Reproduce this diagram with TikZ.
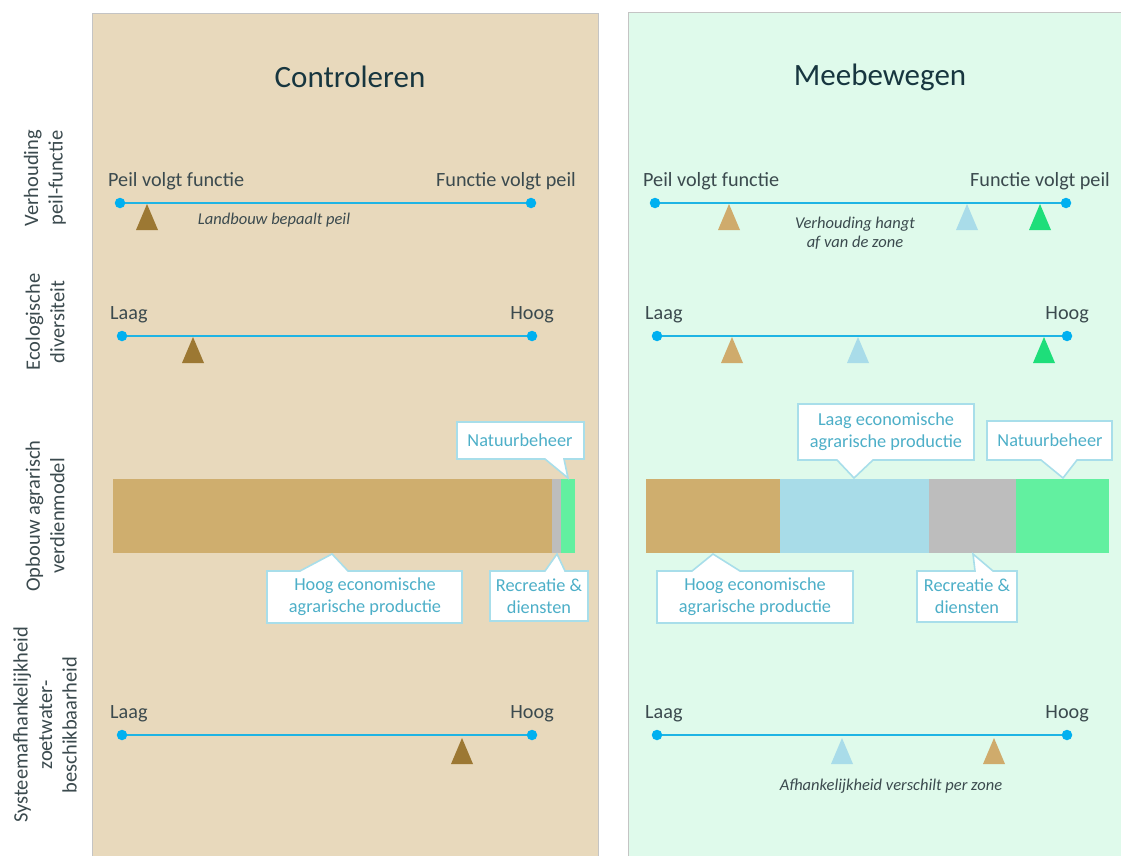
\documentclass[tikz,border=0pt]{standalone}
\usepackage{fontspec}
\setmainfont{Carlito}
\definecolor{panelL}{HTML}{E8D9BC}
\definecolor{panelR}{HTML}{DFFAEB}
\definecolor{panelB}{HTML}{C4C4C4}
\definecolor{axis}{HTML}{1FB4E4}
\definecolor{dotc}{HTML}{00B0F0}
\definecolor{txt}{HTML}{3B4A4E}
\definecolor{ttl}{HTML}{17363F}
\definecolor{brownT}{HTML}{9C7833}
\definecolor{tanT}{HTML}{CFAB6C}
\definecolor{blueT}{HTML}{A9DCE9}
\definecolor{greenT}{HTML}{1EDE7A}
\definecolor{barTan}{HTML}{CFAE6E}
\definecolor{barBlue}{HTML}{A8DCE8}
\definecolor{barGray}{HTML}{BDBDBD}
\definecolor{barGreen}{HTML}{62F0A0}
\definecolor{callB}{HTML}{A8DEEA}
\definecolor{callT}{HTML}{4DAFC8}
\newcommand{\mytri}[3]{\fill[#3] ({#1-11},{#2+26}) -- (#1,#2) -- ({#1+11},{#2+26}) -- cycle;}
\tikzset{
  dot/.style={circle,fill=dotc,inner sep=0pt,minimum size=10.5pt},
  axisline/.style={axis,line width=2.6pt},
  lbl/.style={text=txt,font=\fontsize{20.2}{24}\selectfont,inner sep=0pt},
  ann/.style={text=txt,font=\fontsize{16.5}{19.5}\selectfont\itshape,inner sep=0pt,align=center},
  rowlbl/.style={text=txt,font=\fontsize{20.5}{24.5}\selectfont,rotate=90,align=center,inner sep=0pt},
  ttlstyle/.style={text=ttl,font=\fontsize{31}{36}\selectfont,inner sep=0pt},
  calltext/.style={text=callT,font=\fontsize{18.3}{22}\selectfont,align=center,inner sep=0pt},
  callbox/.style={draw=callB,fill=white,line width=1.6pt,line join=miter},
  panel/.style={draw=panelB,line width=0.8pt}
}
\begin{document}
\begin{tikzpicture}[x=1pt,y=-1pt]
\useasboundingbox (0,0) rectangle (1121,856);
\fill[white] (0,0) rectangle (1121,856);
% panels
\filldraw[panel,fill=panelL] (92,13) rectangle (598,870);
\filldraw[panel,fill=panelR] (628,12) rectangle (1135,870);
\node[ttlstyle] (t1) at (350,77) {Controleren};
\node[ttlstyle] (t2) at (880,77) {Meebewegen};
% row labels
\node[rowlbl] (r1) at (45,178) {Verhouding\\peil-functie};
\node[rowlbl] (r2) at (45,322) {Ecologische\\diversiteit};
\node[rowlbl] (r3) at (45,516) {Opbouw agrarisch\\verdienmodel};
\node[rowlbl] (r4) at (45,725) {Systeemafhankelijkheid\\zoetwater-\\beschikbaarheid};

% ---------- Row 1 ----------
\node[dot] (a1) at (120,203) {};
\node[dot] (b1) at (531,203) {};
\draw[axisline] (a1) -- (b1);
\node[lbl,anchor=west] (a1t) at (108,181) {Peil volgt functie};
\node[lbl,anchor=east] (b1t) at (576,181) {Functie volgt peil};
\mytri{147}{204}{brownT}
\node[ann] (n1) at (274,220) {Landbouw bepaalt peil};

\node[dot] (c1) at (655,203) {};
\node[dot] (d1) at (1066,203) {};
\draw[axisline] (c1) -- (d1);
\node[lbl,anchor=west] (c1t) at (643,181) {Peil volgt functie};
\node[lbl,anchor=east] (d1t) at (1110,181) {Functie volgt peil};
\mytri{729}{204}{tanT}
\mytri{967}{204}{blueT}
\mytri{1040}{204}{greenT}
\node[ann] (n2) at (855,233) {Verhouding hangt\\af van de zone};

% ---------- Row 2 ----------
\node[dot] (a2) at (122,336) {};
\node[dot] (b2) at (532,336) {};
\draw[axisline] (a2) -- (b2);
\node[lbl,anchor=west] (a2t) at (110,315) {Laag};
\node[lbl,anchor=east] (b2t) at (554,315) {Hoog};
\mytri{193}{337}{brownT}

\node[dot] (c2) at (657,336) {};
\node[dot] (d2) at (1067,336) {};
\draw[axisline] (c2) -- (d2);
\node[lbl,anchor=west] (c2t) at (645,315) {Laag};
\node[lbl,anchor=east] (d2t) at (1089,315) {Hoog};
\mytri{732}{337}{tanT}
\mytri{858}{337}{blueT}
\mytri{1044}{337}{greenT}

% ---------- Row 3 bars ----------
\fill[barTan] (113,479) rectangle (552,553);
\fill[barGray] (552,479) rectangle (561,553);
\fill[barGreen] (561,479) rectangle (575,553);

\fill[barTan] (646,479) rectangle (780,553);
\fill[barBlue] (780,479) rectangle (929,553);
\fill[barGray] (929,479) rectangle (1016,553);
\fill[barGreen] (1016,479) rectangle (1109,553);

% callouts left
\draw[callbox] (457,422) -- (584,422) -- (584,459) -- (564,459) -- (568,478) -- (545,459) -- (457,459) -- cycle;
\node[calltext] (cl1) at (520,440) {Natuurbeheer};
\draw[callbox] (490,571) -- (545,571) -- (557,554) -- (565,571) -- (588,571) -- (588,621) -- (490,621) -- cycle;
\node[calltext] (cl2) at (539,596) {Recreatie \&\\diensten};
\draw[callbox] (267,571) -- (300,571) -- (332,554) -- (348,571) -- (462,571) -- (462,623) -- (267,623) -- cycle;
\node[calltext] (cl3) at (365,597) {Hoog economische\\agrarische productie};

% callouts right
\draw[callbox] (798,404) -- (974,404) -- (974,460) -- (873,460) -- (854,478) -- (837,460) -- (798,460) -- cycle;
\node[calltext] (cr1) at (886,432) {Laag economische\\agrarische productie};
\draw[callbox] (987,421) -- (1112,421) -- (1112,460) -- (1077,460) -- (1063,478) -- (1041,460) -- (987,460) -- cycle;
\node[calltext] (cr2) at (1050,440) {Natuurbeheer};
\draw[callbox] (657,571) -- (692,571) -- (713,554) -- (740,571) -- (853,571) -- (853,623) -- (657,623) -- cycle;
\node[calltext] (cr3) at (755,597) {Hoog economische\\agrarische productie};
\draw[callbox] (917,571) -- (975,571) -- (973,554) -- (993,571) -- (1017,571) -- (1017,622) -- (917,622) -- cycle;
\node[calltext] (cr4) at (967,596) {Recreatie \&\\diensten};

% ---------- Row 4 ----------
\node[dot] (a4) at (122,735) {};
\node[dot] (b4) at (532,735) {};
\draw[axisline] (a4) -- (b4);
\node[lbl,anchor=west] (a4t) at (110,714) {Laag};
\node[lbl,anchor=east] (b4t) at (554,714) {Hoog};
\mytri{462}{738}{brownT}

\node[dot] (c4) at (657,735) {};
\node[dot] (d4) at (1067,735) {};
\draw[axisline] (c4) -- (d4);
\node[lbl,anchor=west] (c4t) at (645,714) {Laag};
\node[lbl,anchor=east] (d4t) at (1089,714) {Hoog};
\mytri{842}{738}{blueT}
\mytri{994}{738}{tanT}
\node[ann] (n4) at (891,786) {Afhankelijkheid verschilt per zone};
\end{tikzpicture}
\end{document}
